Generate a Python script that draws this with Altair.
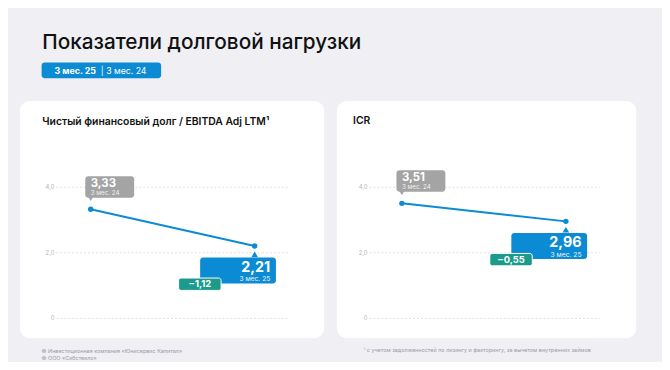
import altair as alt
import pandas as pd

# ---------------- data ----------------
chart_title = "Показатели долговой нагрузки"
badge_current = "3 мес. 25"
badge_previous = "| 3 мес. 24"
periods = ["3 мес. 24", "3 мес. 25"]
panel_titles = ["Чистый финансовый долг / EBITDA Adj LTM¹", "ICR"]
ndebt_values = [3.33, 2.21]
icr_values = [3.51, 2.96]
ndebt_labels = ["3,33", "2,21"]
icr_labels = ["3,51", "2,96"]
change_labels = ["−1,12", "−0,55"]
y_ticks = [0, 2, 4]
y_tick_labels = ["0", "2,0", "4,0"]
footer_left = ["© Инвестиционная компания «Юнисервис Капитал»", "© ООО «Сибстекло»"]
footnote = "¹ с учетом задолженностей по лизингу и факторингу, за вычетом внутренних займов"

# ---------------- style ----------------
BG = "#efeff4"
BLUE = "#0b8bd3"
TEAL = "#1c9a8b"
GREY = "#a4a4a4"
FONT = "Inter"
Y_RANGE = [312, 179.3]

one = pd.DataFrame({"k": [0]})


def deco_text(txt, x, y, size, weight="normal", color="#111111", align="left"):
    return alt.Chart(one).mark_text(
        font=FONT, fontSize=size, fontWeight=weight, color=color, align=align,
        baseline="alphabetic"
    ).encode(x=alt.value(x), y=alt.value(y), text=alt.value(txt))


def deco_rect(x0, x1, y0, y1, color, radius):
    return alt.Chart(one).mark_rect(color=color, cornerRadius=radius, opacity=1).encode(
        x=alt.value(x0), x2=alt.value(x1), y=alt.value(y0), y2=alt.value(y1)
    )


def panel(title, values, labels, change, geom):
    df = pd.DataFrame({
        "idx": [0, 1],
        "period": periods,
        "value": values,
        "label": labels,
        "change": ["", change],
    })
    ticks = pd.DataFrame({"value": y_ticks, "label": y_tick_labels})
    xs = alt.X("idx:Q", scale=alt.Scale(domain=[0, 1], range=geom["px"]), axis=None)
    ys = alt.Y("value:Q", scale=alt.Scale(domain=[0, 4], range=Y_RANGE, nice=False, zero=False), axis=None)
    x2 = alt.X2("idx:Q")
    y2 = alt.Y2("value:Q")
    base = alt.Chart(df)
    old = base.transform_filter("datum.idx == 0")
    new = base.transform_filter("datum.idx == 1")
    layers = [
        deco_rect(geom["card"][0], geom["card"][1], 92, 332, "white", 10),
        deco_text(title, geom["title"][0], geom["title"][1], 10.5, 600),
        alt.Chart(ticks).mark_rule(color="#e0e0e6", strokeDash=[2, 2], strokeWidth=1).encode(
            y=ys, x=alt.value(geom["grid"][0]), x2=alt.value(geom["grid"][1])
        ),
        alt.Chart(ticks).mark_text(font=FONT, fontSize=6, color="#b3b3bb", align="right",
                                   baseline="middle").encode(
            y=ys, x=alt.value(geom["lab"]), text="label:N"
        ),
        base.mark_line(color=BLUE, strokeWidth=2).encode(x=xs, y=ys),
        base.mark_circle(color=BLUE, size=30, opacity=1).encode(x=xs, y=ys),
        # previous-period callout (grey)
        old.mark_rect(color=GREY, cornerRadius=3, opacity=1, xOffset=-5.5, x2Offset=44,
                      yOffset=-33.4, y2Offset=-11.7).encode(x=xs, x2=x2, y=ys, y2=y2),
        old.mark_point(shape="triangle-down", filled=True, size=28, color=GREY, opacity=1,
                       yOffset=-10.5).encode(x=xs, y=ys),
        old.mark_text(font=FONT, fontSize=11.5, fontWeight="bold", color="white", align="left",
                      baseline="alphabetic", dx=0, dy=-23).encode(x=xs, y=ys, text="label:N"),
        old.mark_text(font=FONT, fontSize=6.3, color="#f2f2f2", align="left",
                      baseline="alphabetic", dx=0, dy=-14.2).encode(x=xs, y=ys, text="period:N"),
        # current-period callout (blue)
        new.mark_rect(color=BLUE, cornerRadius=3, opacity=1, xOffset=-55.2, x2Offset=21.5,
                      yOffset=11.7, y2Offset=38).encode(x=xs, x2=x2, y=ys, y2=y2),
        new.mark_point(shape="triangle-up", filled=True, size=45, color=BLUE, opacity=1,
                       yOffset=8.5).encode(x=xs, y=ys),
        new.mark_text(font=FONT, fontSize=14.5, fontWeight="bold", color="white", align="right",
                      baseline="alphabetic", dx=15.8, dy=26).encode(x=xs, y=ys, text="label:N"),
        new.mark_text(font=FONT, fontSize=6.8, color="#f2f2f2", align="right",
                      baseline="alphabetic", dx=15.8, dy=35.6).encode(x=xs, y=ys, text="period:N"),
        # change badge (teal)
        new.mark_rect(color=TEAL, cornerRadius=2.5, opacity=1, stroke="white", strokeWidth=1,
                      xOffset=-77, x2Offset=-34, yOffset=32.5, y2Offset=45).encode(
            x=xs, x2=x2, y=ys, y2=y2),
        new.mark_text(font=FONT, fontSize=9.5, fontWeight="bold", color="white", align="center",
                      baseline="alphabetic", dx=-55.5, dy=41.8).encode(x=xs, y=ys, text="change:N"),
    ]
    return layers


left_geom = {"card": (12, 320), "title": (34.7, 116), "grid": (49, 284), "lab": (47),
             "px": [83.7, 249.7]}
right_geom = {"card": (333, 636), "title": (349.3, 115.5), "grid": (366, 599), "lab": (364),
              "px": [398.7, 564.7]}

layers = [
    deco_text(chart_title, 34.7, 39, 21, 500, "#111111"),
    deco_rect(34, 155, 53, 69, BLUE, 3),
    deco_text(badge_current, 47, 64.3, 9, "bold", "white"),
    deco_text(badge_previous, 94, 64.3, 8.8, "normal", "white"),
]
layers += panel(panel_titles[0], ndebt_values, ndebt_labels, change_labels[0], left_geom)
layers += panel(panel_titles[1], icr_values, icr_labels, change_labels[1], right_geom)
layers += [
    deco_text(footer_left[0], 34, 347, 5.5, "normal", "#9a9aa4"),
    deco_text(footer_left[1], 34, 354.5, 5.5, "normal", "#9a9aa4"),
    deco_text(footnote, 360, 346, 5.5, "normal", "#9a9aa4"),
]

chart = alt.layer(*layers).resolve_scale(x="independent", y="independent").properties(
    width=662, height=354, autosize=alt.AutoSizeParams(type="none"), padding=0,
    background=BG
).configure_view(strokeWidth=0)

chart.save("out.html", embed_options={"renderer": "svg", "actions": False})
